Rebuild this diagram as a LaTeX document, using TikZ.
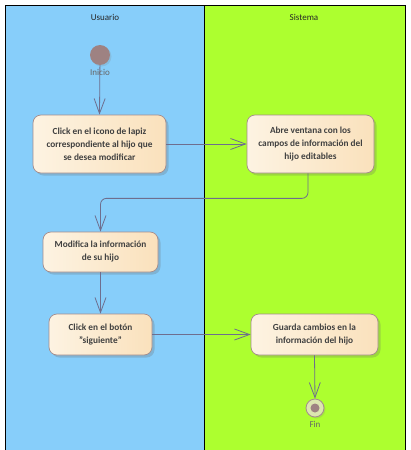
\documentclass[tikz,border=0pt]{standalone}
\usepackage{fontspec}
\setmainfont{Carlito}
\usetikzlibrary{arrows.meta,shadows,calc}
\definecolor{laneA}{HTML}{87CEFA}
\definecolor{laneB}{HTML}{ADFF2F}
\definecolor{boxL}{HTML}{FDF3E2}
\definecolor{boxR}{HTML}{FAE1BC}
\definecolor{boxBorder}{HTML}{A48C8C}
\definecolor{lineC}{HTML}{6E6E8E}
\definecolor{txt}{HTML}{404040}
\definecolor{startC}{HTML}{9E8282}
\definecolor{finRing}{HTML}{DCE6B0}
\tikzset{
  act/.style={draw=boxBorder, line width=0.7pt, rounded corners=8pt,
    left color=boxL, right color=boxR, text=txt, align=center,
    font=\fontsize{9.3}{13}\selectfont\bfseries, inner sep=0pt,
    drop shadow={shadow xshift=2.5pt, shadow yshift=-2.5pt, opacity=0.25, fill=black!60}},
  arr/.style={draw=lineC, line width=0.8pt, -{Straight Barb[length=15pt,width=11pt,line width=0.8pt]}},
  lanelbl/.style={font=\fontsize{9}{10}\selectfont, text=black!85},
  smalllbl/.style={font=\fontsize{9}{10}\selectfont, text=black!60},
}
\begin{document}
\begin{tikzpicture}[x=1pt,y=-1pt]
\useasboundingbox (0,0) rectangle (410,450);
\fill[white] (0,0) rectangle (410,450);
\fill[laneA] (5,5) rectangle (204,450);
\fill[laneB] (204,5) rectangle (405,450);
\draw[black, line width=1pt] (5,450) -- (5,5) -- (405,5) -- (405,450);
\draw[black, line width=1pt] (204,5) -- (204,450);
\node[lanelbl] (lu) at (105,17) {Usuario};
\node[lanelbl] (ls) at (304,17) {Sistema};
% start
\node[circle, fill=startC, minimum size=20pt, inner sep=0pt,
  drop shadow={shadow xshift=1.5pt, shadow yshift=-1.5pt, opacity=0.2}] (start) at (100,55) {};
% activities
\node[act, minimum width=133pt, minimum height=58pt] (b1) at (99.5,144)
  {Click en el icono de lapiz\\correspondiente al hijo que\\se desea modificar};
\node[act, minimum width=127pt, minimum height=58pt] (b2) at (310.5,144)
  {Abre ventana con los\\campos de información del\\hijo editables};
\node[act, minimum width=115pt, minimum height=40pt] (b3) at (100.5,252)
  {Modifica la información\\de su hijo};
\node[act, minimum width=103pt, minimum height=41pt] (b4) at (100.5,334.5)
  {Click en el botón\\"siguiente"};
\node[act, minimum width=127pt, minimum height=41pt] (b5) at (314.5,334.5)
  {Guarda cambios en la\\información del hijo};
% final
\node[circle, draw=boxBorder, line width=0.8pt, fill=finRing, minimum size=18pt, inner sep=0pt,
  drop shadow={shadow xshift=1.5pt, shadow yshift=-1.5pt, opacity=0.2}] (fin) at (315,408) {};
\node[circle, fill=startC, minimum size=9pt, inner sep=0pt] (finDot) at (fin.center) {};
% connectors
\draw[arr] (start) -- (b1.north);
\node[smalllbl] (li) at (100,72) {Inicio};
\draw[arr] (b1.east) -- (b2.west);
\draw[arr, rounded corners=6pt] ($(b2.south)+(-2.5,0)$) -- ++(0,25) -| (b3.north);
\draw[arr] (b3.south) -- (b4.north);
\draw[arr] (b4.east) -- (b5.west);
\draw[arr] (b5.south) -- (fin.north);
\node[smalllbl] (lf) at (315,424) {Fin};
\end{tikzpicture}
\end{document}
